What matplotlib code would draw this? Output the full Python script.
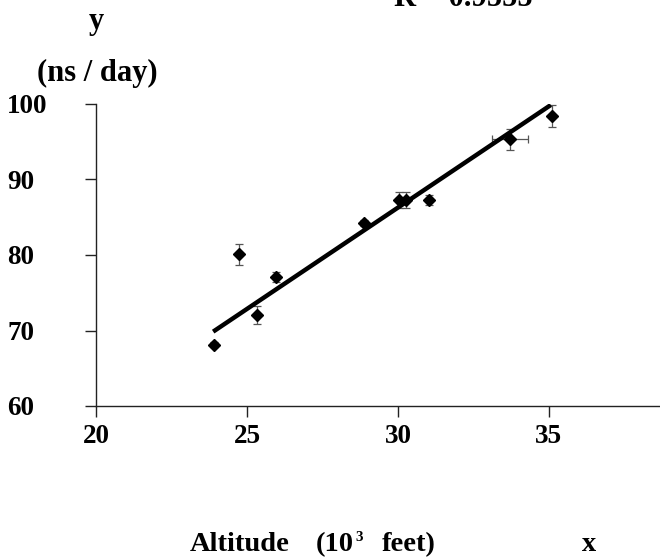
import matplotlib
matplotlib.use("Agg")
import matplotlib.pyplot as plt
import numpy as np

plt.rcParams['font.family'] = ['Liberation Serif', 'DejaVu Serif']
plt.rcParams['font.weight'] = 'bold'

# data
altitude = [23.9, 24.75, 25.33, 25.96, 28.87, 30.03, 30.26, 31.04, 33.71, 35.1]
rate = [68.1, 80.1, 72.1, 77.1, 84.2, 87.3, 87.3, 87.3, 95.3, 98.4]
rate_err = [0.35, 1.4, 1.2, 0.65, 0.4, 1.1, 1.1, 0.65, 1.35, 1.45]
alt_err = [0, 0, 0, 0, 0, 0, 0, 0, 0.6, 0]
fit_x = [23.88, 35.06]
fit_y = [69.85, 99.87]
x_ticks = [20, 25, 30, 35]
y_ticks = [60, 70, 80, 90, 100]

W, H = 660, 560
fig = plt.figure(figsize=(W / 100, H / 100), dpi=100)
x0, y0, x1, y1 = 96, 406, 660, 104
ax = fig.add_axes([x0 / W, (H - y0) / H, (x1 - x0) / W, (y0 - y1) / H])

ax.errorbar(altitude, rate, yerr=rate_err, xerr=alt_err, fmt='none',
            ecolor='#555555', elinewidth=0.9, capsize=3, capthick=0.9, zorder=2)
ax.plot(altitude, rate, 'D', color='black', ms=6.5, zorder=3)
ax.plot(fit_x, fit_y, color='black', lw=3.2, solid_capstyle='butt', zorder=4)

ax.set_xlim(20, 20 + (x1 - x0) / 30.2)
ax.set_ylim(60, 100)
ax.set_xticks(x_ticks)
ax.set_yticks(y_ticks)
for s in ['top', 'right']:
    ax.spines[s].set_visible(False)
for s in ['left', 'bottom']:
    ax.spines[s].set_linewidth(1.0)
    ax.spines[s].set_color('#222222')
ax.tick_params(axis='both', direction='out', length=8, width=1, color='#222222',
               labelsize=19.5)
ax.tick_params(axis='x', pad=5)
ax.tick_params(axis='y', pad=56)
for lab in ax.get_yticklabels():
    lab.set_horizontalalignment('left')
    lab.set_fontweight('bold')
for lab in ax.get_xticklabels():
    lab.set_fontweight('bold')

def px(x, y):
    return x / W, 1 - y / H

fig.text(*px(96, 22), 'y', ha='center', va='center', fontsize=22, fontweight='bold')
fig.text(*px(97, 81), '(ns / day)', ha='center', va='baseline', fontsize=22, fontweight='bold')
fig.text(*px(463, 6), 'R = 0.9555', ha='center', va='baseline', fontsize=22, fontweight='bold')

fs = 20.5
base = 551
fig.text(*px(190, base), 'Altitude', ha='left', va='baseline', fontsize=fs, fontweight='bold')
fig.text(*px(354, base), '(10', ha='right', va='baseline', fontsize=fs, fontweight='bold')
fig.text(*px(355, base - 10), '3', ha='left', va='baseline', fontsize=11, fontweight='bold')
fig.text(*px(382, base), 'feet)', ha='left', va='baseline', fontsize=fs, fontweight='bold')
fig.text(*px(582, base), 'x', ha='left', va='baseline', fontsize=fs, fontweight='bold')

fig.savefig('out.png', dpi=100)
